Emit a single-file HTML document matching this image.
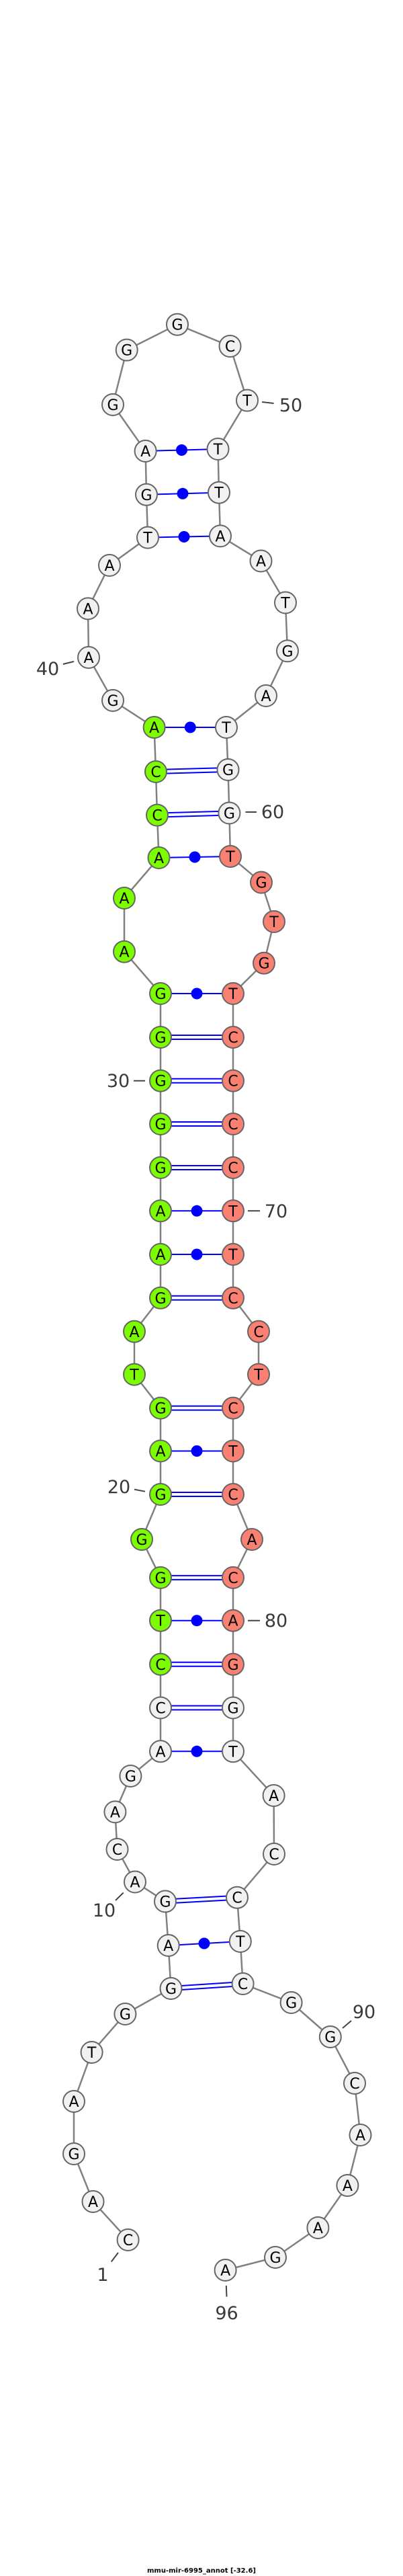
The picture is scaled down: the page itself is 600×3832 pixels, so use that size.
<!DOCTYPE html>
<html><head><meta charset="utf-8"><style>
html,body{margin:0;padding:0;background:#fff}
svg{display:block}
.n{stroke:#666;stroke-width:2}
.w{fill:#f1f1f1}.g{fill:#7cfc00}.s{fill:#fa8072}
.t{font-family:"DejaVu Sans","Liberation Sans",sans-serif;font-size:22px;text-anchor:middle;fill:#000}
.l{font-family:"DejaVu Sans","Liberation Sans",sans-serif;font-size:27px;font-weight:normal;fill:#3a3a3a;text-anchor:middle}
.p{stroke:#00f;stroke-width:2;fill:none}
.d{fill:#00f}
.k{stroke:#444;stroke-width:2}
</style></head><body>
<svg width="600" height="3832" viewBox="0 0 600 3832" xmlns="http://www.w3.org/2000/svg">
<polyline fill="none" stroke="#808080" stroke-width="2.5" points="190.6,3332 138.5,3275 110,3204 110,3126 136.6,3053 186.4,2996 254.5,2958 250.7,2894 246,2828.5 201,2799.5 174.5,2751 171.4,2695.4 194.4,2642 239,2605.3 239,2540.5 239,2475.8 239,2410.7 239,2346.9 211,2290 239,2223 239,2158.5 239,2094.6 200,2044.6 200,1980.8 239,1930.8 239,1866 239,1801.3 239,1737 239,1672 239,1607.7 239,1543 239,1478 185,1415.7 185,1336 236.5,1276 234,1212.6 232,1148 229.6,1082 168,1042 132,978 131,905.4 163,841 220,799.6 218,735.8 216.6,671 168,602 188.7,520.6 264,482.7 342.5,515 368,595.6 324.5,668 326,732.7 328,797.4 388.5,834.5 425,896.5 428,968.4 396,1035 337,1082 339.5,1145 341.4,1209.5 343,1274 389,1312.6 408,1371 393,1432.7 347,1478 347,1543 347,1607.7 347,1672 347,1737 347,1801.3 347,1866 347,1930.8 385,1980.8 385,2044.6 347,2094.6 347,2158.5 347,2223 375,2290 347,2346.9 347,2410.7 347,2475.8 347,2540.5 347,2605.3 407.6,2671 408,2758 353,2822.7 357.8,2888 361.6,2951 433.6,2979 491.8,3030 528,3099 536.5,3176 517.4,3251 473.4,3314 410,3358 335.6,3377"/>
<g class="p">
<line x1="216.6" y1="671" x2="324.5" y2="668"/>
<line x1="218" y1="735.8" x2="326" y2="732.7"/>
<line x1="220" y1="799.6" x2="328" y2="797.4"/>
<line x1="229.6" y1="1082" x2="337" y2="1082"/>
<line x1="236.5" y1="1276" x2="343" y2="1274"/>
<line x1="239" y1="1478" x2="347" y2="1478"/>
<line x1="239" y1="1801.3" x2="347" y2="1801.3"/>
<line x1="239" y1="1866" x2="347" y2="1866"/>
<line x1="239" y1="2158.5" x2="347" y2="2158.5"/>
<line x1="239" y1="2410.7" x2="347" y2="2410.7"/>
<line x1="239" y1="2605.3" x2="347" y2="2605.3"/>
<line x1="250.7" y1="2894" x2="357.8" y2="2888"/>
<line x1="232" y1="1145" x2="339.5" y2="1142"/><line x1="232" y1="1151" x2="339.5" y2="1148"/>
<line x1="234" y1="1209.6" x2="341.4" y2="1206.5"/><line x1="234" y1="1215.6" x2="341.4" y2="1212.5"/>
<line x1="239" y1="1540" x2="347" y2="1540"/><line x1="239" y1="1546" x2="347" y2="1546"/>
<line x1="239" y1="1604.7" x2="347" y2="1604.7"/><line x1="239" y1="1610.7" x2="347" y2="1610.7"/>
<line x1="239" y1="1669" x2="347" y2="1669"/><line x1="239" y1="1675" x2="347" y2="1675"/>
<line x1="239" y1="1734" x2="347" y2="1734"/><line x1="239" y1="1740" x2="347" y2="1740"/>
<line x1="239" y1="1927.8" x2="347" y2="1927.8"/><line x1="239" y1="1933.8" x2="347" y2="1933.8"/>
<line x1="239" y1="2091.6" x2="347" y2="2091.6"/><line x1="239" y1="2097.6" x2="347" y2="2097.6"/>
<line x1="239" y1="2220" x2="347" y2="2220"/><line x1="239" y1="2226" x2="347" y2="2226"/>
<line x1="239" y1="2343.9" x2="347" y2="2343.9"/><line x1="239" y1="2349.9" x2="347" y2="2349.9"/>
<line x1="239" y1="2472.8" x2="347" y2="2472.8"/><line x1="239" y1="2478.8" x2="347" y2="2478.8"/>
<line x1="239" y1="2537.5" x2="347" y2="2537.5"/><line x1="239" y1="2543.5" x2="347" y2="2543.5"/>
<line x1="246" y1="2825.5" x2="353" y2="2819.7"/><line x1="246" y1="2831.5" x2="353" y2="2825.7"/>
<line x1="254.5" y1="2955" x2="361.6" y2="2948"/><line x1="254.5" y1="2961" x2="361.6" y2="2954"/>
</g>
<g class="d">
<circle cx="270.5" cy="669.5" r="8.5"/><circle cx="272" cy="734.3" r="8.5"/><circle cx="274" cy="798.5" r="8.5"/>
<circle cx="283.3" cy="1082" r="8.5"/><circle cx="290" cy="1275" r="8.5"/><circle cx="293" cy="1478" r="8.5"/>
<circle cx="293" cy="1801.3" r="8.5"/><circle cx="293" cy="1866" r="8.5"/><circle cx="293" cy="2158.5" r="8.5"/>
<circle cx="293" cy="2410.7" r="8.5"/><circle cx="293" cy="2605.3" r="8.5"/><circle cx="304" cy="2891" r="8.5"/>
</g>
<g class="n w">
<circle cx="190.6" cy="3332" r="16"/><circle cx="138.5" cy="3275" r="16"/><circle cx="110" cy="3204" r="16"/><circle cx="110" cy="3126" r="16"/><circle cx="136.6" cy="3053" r="16"/><circle cx="186.4" cy="2996" r="16"/><circle cx="254.5" cy="2958" r="16"/><circle cx="250.7" cy="2894" r="16"/><circle cx="246" cy="2828.5" r="16"/><circle cx="201" cy="2799.5" r="16"/><circle cx="174.5" cy="2751" r="16"/><circle cx="171.4" cy="2695.4" r="16"/><circle cx="194.4" cy="2642" r="16"/><circle cx="239" cy="2605.3" r="16"/><circle cx="239" cy="2540.5" r="16"/>
<circle cx="168" cy="1042" r="16"/><circle cx="132" cy="978" r="16"/><circle cx="131" cy="905.4" r="16"/><circle cx="163" cy="841" r="16"/><circle cx="220" cy="799.6" r="16"/><circle cx="218" cy="735.8" r="16"/><circle cx="216.6" cy="671" r="16"/><circle cx="168" cy="602" r="16"/><circle cx="188.7" cy="520.6" r="16"/><circle cx="264" cy="482.7" r="16"/><circle cx="342.5" cy="515" r="16"/><circle cx="368" cy="595.6" r="16"/><circle cx="324.5" cy="668" r="16"/><circle cx="326" cy="732.7" r="16"/><circle cx="328" cy="797.4" r="16"/><circle cx="388.5" cy="834.5" r="16"/><circle cx="425" cy="896.5" r="16"/><circle cx="428" cy="968.4" r="16"/><circle cx="396" cy="1035" r="16"/><circle cx="337" cy="1082" r="16"/><circle cx="339.5" cy="1145" r="16"/><circle cx="341.4" cy="1209.5" r="16"/>
<circle cx="347" cy="2540.5" r="16"/><circle cx="347" cy="2605.3" r="16"/><circle cx="407.6" cy="2671" r="16"/><circle cx="408" cy="2758" r="16"/><circle cx="353" cy="2822.7" r="16"/><circle cx="357.8" cy="2888" r="16"/><circle cx="361.6" cy="2951" r="16"/><circle cx="433.6" cy="2979" r="16"/><circle cx="491.8" cy="3030" r="16"/><circle cx="528" cy="3099" r="16"/><circle cx="536.5" cy="3176" r="16"/><circle cx="517.4" cy="3251" r="16"/><circle cx="473.4" cy="3314" r="16"/><circle cx="410" cy="3358" r="16"/><circle cx="335.6" cy="3377" r="16"/>
</g>
<g class="n g">
<circle cx="239" cy="2475.8" r="16"/><circle cx="239" cy="2410.7" r="16"/><circle cx="239" cy="2346.9" r="16"/><circle cx="211" cy="2290" r="16"/><circle cx="239" cy="2223" r="16"/><circle cx="239" cy="2158.5" r="16"/><circle cx="239" cy="2094.6" r="16"/><circle cx="200" cy="2044.6" r="16"/><circle cx="200" cy="1980.8" r="16"/><circle cx="239" cy="1930.8" r="16"/><circle cx="239" cy="1866" r="16"/><circle cx="239" cy="1801.3" r="16"/><circle cx="239" cy="1737" r="16"/><circle cx="239" cy="1672" r="16"/><circle cx="239" cy="1607.7" r="16"/><circle cx="239" cy="1543" r="16"/><circle cx="239" cy="1478" r="16"/><circle cx="185" cy="1415.7" r="16"/><circle cx="185" cy="1336" r="16"/><circle cx="236.5" cy="1276" r="16"/><circle cx="234" cy="1212.6" r="16"/><circle cx="232" cy="1148" r="16"/><circle cx="229.6" cy="1082" r="16"/>
</g>
<g class="n s">
<circle cx="343" cy="1274" r="16"/><circle cx="389" cy="1312.6" r="16"/><circle cx="408" cy="1371" r="16"/><circle cx="393" cy="1432.7" r="16"/><circle cx="347" cy="1478" r="16"/><circle cx="347" cy="1543" r="16"/><circle cx="347" cy="1607.7" r="16"/><circle cx="347" cy="1672" r="16"/><circle cx="347" cy="1737" r="16"/><circle cx="347" cy="1801.3" r="16"/><circle cx="347" cy="1866" r="16"/><circle cx="347" cy="1930.8" r="16"/><circle cx="385" cy="1980.8" r="16"/><circle cx="385" cy="2044.6" r="16"/><circle cx="347" cy="2094.6" r="16"/><circle cx="347" cy="2158.5" r="16"/><circle cx="347" cy="2223" r="16"/><circle cx="375" cy="2290" r="16"/><circle cx="347" cy="2346.9" r="16"/><circle cx="347" cy="2410.7" r="16"/><circle cx="347" cy="2475.8" r="16"/>
</g>
<g class="t">
<text x="190.6" y="3340">C</text><text x="138.5" y="3283">A</text><text x="110" y="3212">G</text><text x="110" y="3134">A</text><text x="136.6" y="3061">T</text><text x="186.4" y="3004">G</text><text x="254.5" y="2966">G</text><text x="250.7" y="2902">A</text><text x="246" y="2836.5">G</text><text x="201" y="2807.5">A</text><text x="174.5" y="2759">C</text><text x="171.4" y="2703.4">A</text><text x="194.4" y="2650">G</text><text x="239" y="2613.3">A</text><text x="239" y="2548.5">C</text><text x="239" y="2483.8">C</text><text x="239" y="2418.7">T</text><text x="239" y="2354.9">G</text><text x="211" y="2298">G</text><text x="239" y="2231">G</text><text x="239" y="2166.5">A</text><text x="239" y="2102.6">G</text><text x="200" y="2052.6">T</text><text x="200" y="1988.8">A</text><text x="239" y="1938.8">G</text><text x="239" y="1874">A</text><text x="239" y="1809.3">A</text><text x="239" y="1745">G</text><text x="239" y="1680">G</text><text x="239" y="1615.7">G</text><text x="239" y="1551">G</text><text x="239" y="1486">G</text><text x="185" y="1423.7">A</text><text x="185" y="1344">A</text><text x="236.5" y="1284">A</text><text x="234" y="1220.6">C</text><text x="232" y="1156">C</text><text x="229.6" y="1090">A</text>
<text x="168" y="1050">G</text><text x="132" y="986">A</text><text x="131" y="913.4">A</text><text x="163" y="849">A</text><text x="220" y="807.6">T</text><text x="218" y="743.8">G</text><text x="216.6" y="679">A</text><text x="168" y="610">G</text><text x="188.7" y="528.6">G</text><text x="264" y="490.7">G</text><text x="342.5" y="523">C</text><text x="368" y="603.6">T</text><text x="324.5" y="676">T</text><text x="326" y="740.7">T</text><text x="328" y="805.4">A</text><text x="388.5" y="842.5">A</text><text x="425" y="904.5">T</text><text x="428" y="976.4">G</text><text x="396" y="1043">A</text><text x="337" y="1090">T</text><text x="339.5" y="1153">G</text><text x="341.4" y="1217.5">G</text>
<text x="343" y="1282">T</text><text x="389" y="1320.6">G</text><text x="408" y="1379">T</text><text x="393" y="1440.7">G</text><text x="347" y="1486">T</text><text x="347" y="1551">C</text><text x="347" y="1615.7">C</text><text x="347" y="1680">C</text><text x="347" y="1745">C</text><text x="347" y="1809.3">T</text><text x="347" y="1874">T</text><text x="347" y="1938.8">C</text><text x="385" y="1988.8">C</text><text x="385" y="2052.6">T</text><text x="347" y="2102.6">C</text><text x="347" y="2166.5">T</text><text x="347" y="2231">C</text><text x="375" y="2298">A</text><text x="347" y="2354.9">C</text><text x="347" y="2418.7">A</text><text x="347" y="2483.8">G</text>
<text x="347" y="2548.5">G</text><text x="347" y="2613.3">T</text><text x="407.6" y="2679">A</text><text x="408" y="2766">C</text><text x="353" y="2830.7">C</text><text x="357.8" y="2896">T</text><text x="361.6" y="2959">C</text><text x="433.6" y="2987">G</text><text x="491.8" y="3038">G</text><text x="528" y="3107">C</text><text x="536.5" y="3184">A</text><text x="517.4" y="3259">A</text><text x="473.4" y="3322">A</text><text x="410" y="3366">G</text><text x="335.6" y="3385">A</text>
</g>
<g class="k">
<line x1="390" y1="598" x2="407.6" y2="600"/>
<line x1="93.8" y1="988" x2="110" y2="984"/>
<line x1="365.5" y1="1208" x2="382" y2="1208"/>
<line x1="199" y1="1607.7" x2="216" y2="1607.7"/>
<line x1="369" y1="1801.3" x2="387" y2="1801.3"/>
<line x1="200" y1="2215.6" x2="216" y2="2218.7"/>
<line x1="369" y1="2410.7" x2="387" y2="2410.7"/>
<line x1="172" y1="2827" x2="183.7" y2="2815.5"/>
<line x1="510" y1="3017" x2="523" y2="3006"/>
<line x1="176" y1="3351" x2="165.7" y2="3364.5"/>
<line x1="336.8" y1="3400" x2="337.5" y2="3416.6"/>
</g>
<g class="l">
<text x="433" y="612">50</text>
<text x="71" y="1004">40</text>
<text x="406" y="1217">60</text>
<text x="176" y="1617">30</text>
<text x="411" y="1811">70</text>
<text x="177" y="2221">20</text>
<text x="411" y="2420">80</text>
<text x="155" y="2851">10</text>
<text x="542" y="3002">90</text>
<text x="153" y="3393">1</text>
<text x="337.5" y="3450">96</text>
</g>
<text x="300" y="3827" style="font-family:'DejaVu Sans','Liberation Sans',sans-serif;font-size:10px;font-weight:bold;text-anchor:middle;fill:#000">mmu-mir-6995_annot [-32.6]</text>
</svg>
</body></html>
